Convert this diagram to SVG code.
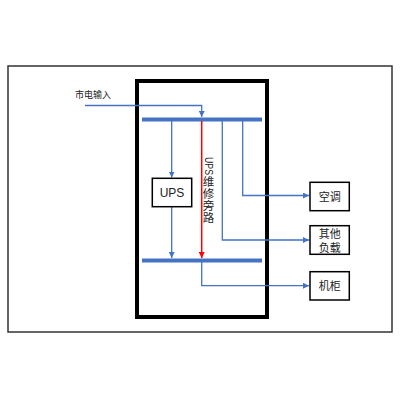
<svg xmlns="http://www.w3.org/2000/svg" width="400" height="400" viewBox="0 0 400 400">
<defs>
<style>
text{font-family:"Liberation Sans","Noto Sans CJK SC",sans-serif;fill:#222}
.box{fill:#fff;stroke:#000;stroke-width:1.5}
.ln{fill:none;stroke:#4472C4;stroke-width:1.3}
.bar{stroke:#4472C4;stroke-width:4}
.v{font-size:11.5px;text-anchor:middle}
</style>
<marker id="ab" viewBox="0 0 10 10" refX="10" refY="5" markerWidth="6" markerHeight="6" orient="auto" markerUnits="userSpaceOnUse"><path d="M0,0L10,5L0,10z" fill="#4472C4"/></marker>
<marker id="ar" viewBox="0 0 10 10" refX="10" refY="5" markerWidth="6" markerHeight="6" orient="auto" markerUnits="userSpaceOnUse"><path d="M0,0L10,5L0,10z" fill="#FF0000"/></marker>
</defs>
<rect x="0" y="0" width="400" height="400" fill="#fff"/>
<rect x="8" y="66" width="384" height="266" fill="#fff" stroke="#333" stroke-width="1.5"/>
<rect x="137" y="81" width="130" height="236" fill="none" stroke="#000" stroke-width="4"/>
<g id="bars">
<line class="bar" x1="142" y1="119.5" x2="262" y2="119.5"/>
<line class="bar" x1="142" y1="260.5" x2="262" y2="260.5"/>
</g>
<g id="connectors">
<path class="ln" d="M85,105.5H201.7V117" marker-end="url(#ab)"/>
<path class="ln" d="M171.7,121V177.5" marker-end="url(#ab)"/>
<path class="ln" d="M171.7,207V258" marker-end="url(#ab)"/>
<path d="M201.7,121V258" fill="none" stroke="#FF0000" stroke-width="1.5" marker-end="url(#ar)"/>
<path class="ln" d="M222.3,121V240H309" marker-end="url(#ab)"/>
<path class="ln" d="M242.7,121V195.5H309" marker-end="url(#ab)"/>
<path class="ln" d="M201.7,262V285.7H309" marker-end="url(#ab)"/>
</g>
<text x="75" y="98" font-size="9">市电输入</text>
<g id="bypass-label">
<text x="0" y="0" font-size="11" textLength="18" lengthAdjust="spacingAndGlyphs" transform="translate(204.5,157) rotate(90)">UPS</text>
<text class="v" x="208.5" y="185.5">维</text>
<text class="v" x="208.5" y="197.5">修</text>
<text class="v" x="208.5" y="209.5">旁</text>
<text class="v" x="208.5" y="221.5">路</text>
</g>
<g id="ups"><rect class="box" x="152.3" y="178.3" width="39.4" height="28.4"/><text x="172" y="197" font-size="12" text-anchor="middle">UPS</text></g>
<g id="ac"><rect class="box" x="310" y="182.3" width="39.3" height="28.4"/><text x="329.7" y="200.5" font-size="11" text-anchor="middle">空调</text></g>
<g id="other"><rect class="box" x="310" y="225.7" width="39.3" height="28.6"/><text x="329.7" y="237.5" font-size="11" text-anchor="middle">其他</text><text x="329.7" y="251.5" font-size="11" text-anchor="middle">负载</text></g>
<g id="rack"><rect class="box" x="310" y="271.7" width="39.3" height="28.3"/><text x="329.7" y="290" font-size="11" text-anchor="middle">机柜</text></g>
</svg>
